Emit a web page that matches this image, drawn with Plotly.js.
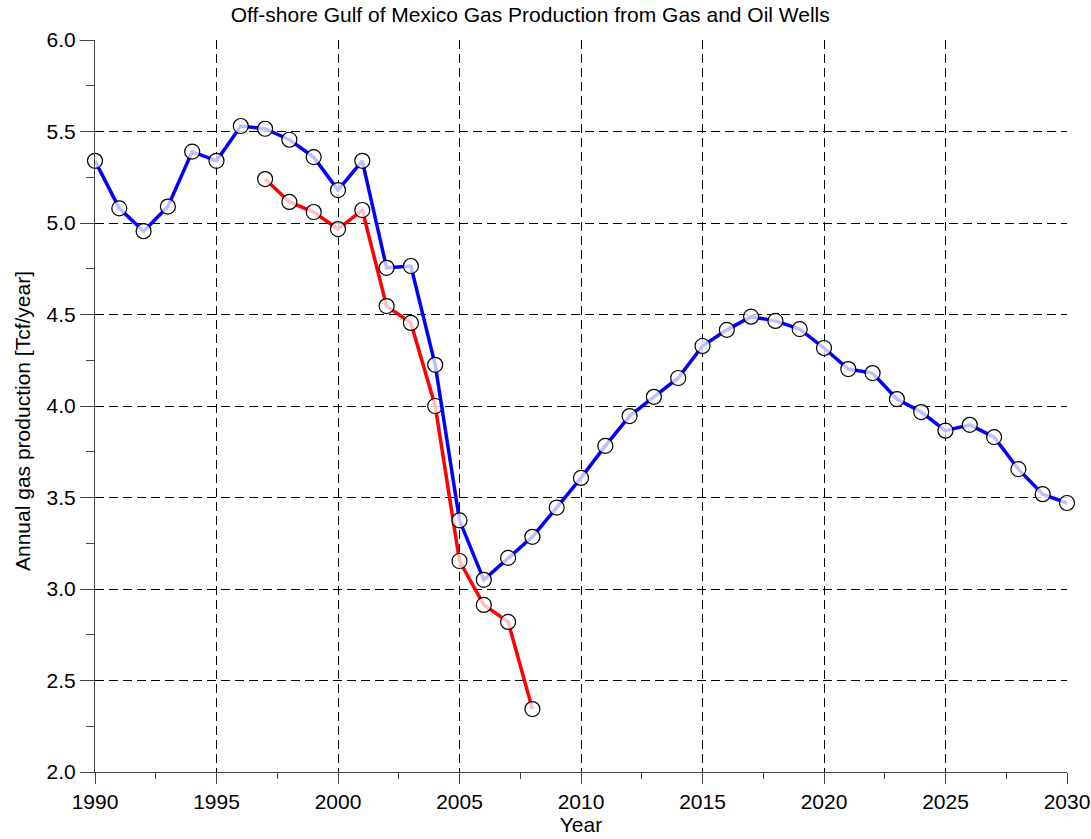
<!DOCTYPE html>
<html>
<head>
<meta charset="utf-8">
<script src="https://cdn.plot.ly/plotly-3.0.1.min.js"></script>
<style>html,body{margin:0;padding:0;background:#fff;}#chart{width:1091px;height:839px;}</style>
</head>
<body>
<div id="chart"></div>
<script>
const blueYears = [1990,1991,1992,1993,1994,1995,1996,1997,1998,1999,2000,2001,2002,2003,2004,2005,2006,2007,2008,2009,2010,2011,2012,2013,2014,2015,2016,2017,2018,2019,2020,2021,2022,2023,2024,2025,2026,2027,2028,2029,2030];
const blueValues = [5.34,5.08,4.955,5.09,5.39,5.34,5.53,5.515,5.455,5.36,5.18,5.34,4.755,4.765,4.225,3.375,3.05,3.17,3.285,3.445,3.607,3.782,3.945,4.05,4.153,4.328,4.416,4.488,4.465,4.42,4.317,4.202,4.18,4.038,3.967,3.865,3.897,3.83,3.655,3.518,3.47];
const redYears = [1997,1998,1999,2000,2001,2002,2003,2004,2005,2006,2007,2008];
const redValues = [5.24,5.115,5.06,4.967,5.071,4.546,4.454,4.0,3.153,2.913,2.82,2.344];
const xTickVals = [1990,1995,2000,2005,2010,2015,2020,2025,2030];
const yTickVals = [2.0,2.5,3.0,3.5,4.0,4.5,5.0,5.5,6.0];

const marker = {symbol:'circle', size:15, color:'rgba(255,255,255,0.75)', line:{color:'#000', width:1.2}};
const traces = [
  {x: redYears, y: redValues, mode:'lines+markers', line:{color:'#ff0000', width:3.5}, marker: marker, cliponaxis:false, showlegend:false},
  {x: blueYears, y: blueValues, mode:'lines+markers', line:{color:'#0000ff', width:3.5}, marker: marker, cliponaxis:false, showlegend:false}
];
const fam = '"Liberation Sans", Arial, sans-serif';
const layout = {
  width:1091, height:839,
  margin:{l:95, r:24, t:40, b:67},
  paper_bgcolor:'#fff', plot_bgcolor:'#fff',
  font: {family:fam, color:'#000'},
  title:{text:'Off-shore Gulf of Mexico Gas Production from Gas and Oil Wells', font:{family:fam, size:21, color:'#000'}, x:0.486, xanchor:'center', xref:'container', y:0.982, yanchor:'middle'},
  xaxis:{
    range:[1990,2030], tickvals:xTickVals, ticktext:xTickVals.map(String),
    ticks:'outside', ticklen:11, tickwidth:1, tickcolor:'#444',
    minor:{dtick:2.5, tick0:1990, ticks:'outside', ticklen:6, tickcolor:'#444', showgrid:false},
    showline:true, linecolor:'#444', linewidth:1, mirror:false,
    showgrid:true, gridcolor:'#000', griddash:'9px,5px', gridwidth:1,
    zeroline:false,
    tickfont:{family:fam, size:21, color:'#000'},
    title:{text:'Year', font:{family:fam, size:21, color:'#000'}, standoff:4}
  },
  yaxis:{
    range:[2,6], tickvals:yTickVals, ticktext:yTickVals.map(v=>v.toFixed(1)),
    ticks:'outside', ticklen:14, tickwidth:1, tickcolor:'#444',
    minor:{dtick:0.25, tick0:2, ticks:'outside', ticklen:8, tickcolor:'#444', showgrid:false},
    showline:true, linecolor:'#444', linewidth:1, mirror:false,
    showgrid:true, gridcolor:'#000', griddash:'9px,5px', gridwidth:1,
    zeroline:false,
    tickfont:{family:fam, size:21, color:'#000'}
  },
  annotations:[{
    text:'Annual gas production [Tcf/year]', textangle:-90,
    xref:'paper', yref:'paper', x:0, y:0.5, xanchor:'center', yanchor:'middle',
    xshift:-73, yshift:-15, showarrow:false,
    font:{family:fam, size:21, color:'#000'}
  }]
};
Plotly.newPlot('chart', traces, layout, {displayModeBar:false, staticPlot:true});
</script>
</body>
</html>
